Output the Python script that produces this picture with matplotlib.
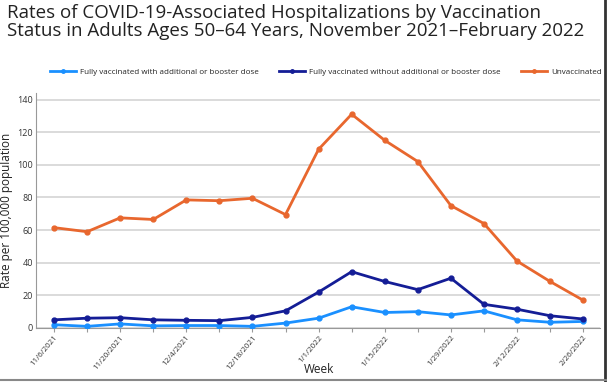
import matplotlib.pyplot as plt
from matplotlib.lines import Line2D

plt.rcParams['font.family'] = ['Open Sans', 'DejaVu Sans']

weeks = ['11/6/2021', '11/13/2021', '11/20/2021', '11/27/2021', '12/4/2021',
         '12/11/2021', '12/18/2021', '12/25/2021', '1/1/2022', '1/8/2022',
         '1/15/2022', '1/22/2022', '1/29/2022', '2/5/2022', '2/12/2022',
         '2/19/2022', '2/26/2022']
booster = [2.0, 1.0, 2.5, 1.3, 1.5, 1.5, 1.0, 3.0, 6.0, 13.0, 9.5, 10.0, 8.0, 10.5, 5.0, 3.5, 4.0]
no_booster = [5.0, 6.0, 6.3, 5.0, 4.7, 4.5, 6.5, 10.5, 22.0, 34.5, 28.5, 23.5, 30.5, 14.5, 11.5, 7.5, 5.5]
unvaccinated = [61.5, 59.0, 67.5, 66.5, 78.5, 78.0, 79.5, 69.5, 109.5, 131.0, 115.0, 102.0, 75.0, 64.0, 41.0, 28.5, 17.0]

series = [
    ('Fully vaccinated with additional or booster dose', booster, '#1a90ff'),
    ('Fully vaccinated without additional or booster dose', no_booster, '#141d96'),
    ('Unvaccinated', unvaccinated, '#e8672e'),
]

fig = plt.figure(figsize=(6.07, 3.82), dpi=100)
ax = fig.add_axes([0.0593, 0.1414, 0.9292, 0.6151])

x = list(range(len(weeks)))
for label, vals, col in series:
    ax.plot(x, vals, color=col, lw=2, marker='o', markersize=3.5, label=label, zorder=3)

ax.set_xlim(-0.545, 16.51)
ax.set_ylim(0, 144)
ax.set_yticks(range(0, 141, 20))
ax.set_xticks(x)
ax.set_xticklabels([w if i % 2 == 0 else '' for i, w in enumerate(weeks)],
                   rotation=50, ha='right', rotation_mode='anchor', fontsize=5.8, color='#333333')
ax.tick_params(axis='y', labelsize=6.5, length=0, colors='#333333', pad=2)
ax.tick_params(axis='x', length=3, color='#999999', pad=1.5)
ax.grid(axis='y', color='#d4d4d4', lw=1.2)
ax.set_axisbelow(True)
for s in ['top', 'right']:
    ax.spines[s].set_visible(False)
for s in ['left', 'bottom']:
    ax.spines[s].set_color('#999999')
ax.set_ylabel('Rate per 100,000 population', fontsize=8.5, color='#222222', labelpad=3)
fig.text(0.525, 0.032, 'Week', fontsize=8.5, color='#222222', ha='center', va='center')

fig.text(0.012, 0.99, 'Rates of COVID-19-Associated Hospitalizations by Vaccination\n'
         'Status in Adults Ages 50\u201364 Years, November 2021\u2013February 2022',
         fontsize=13.5, va='top', ha='left', color='#222222', linespacing=1.0)

handles = [Line2D([], [], color=c, lw=2, marker='o', markersize=2.5) for _, _, c in series]
fig.legend(handles, [s[0] for s in series], loc='center left', bbox_to_anchor=(0.07, 0.812),
           ncol=3, frameon=False, fontsize=5.8, handlelength=3.2, handletextpad=0.5,
           columnspacing=2.6, labelcolor='#222222')

# image border on right and bottom
fig.add_artist(Line2D([0.996, 0.996], [0, 1], transform=fig.transFigure, color='#333333', lw=2))
fig.add_artist(Line2D([0, 1], [0.005, 0.005], transform=fig.transFigure, color='#888888', lw=1.5))

fig.savefig('out.png', dpi=100)
